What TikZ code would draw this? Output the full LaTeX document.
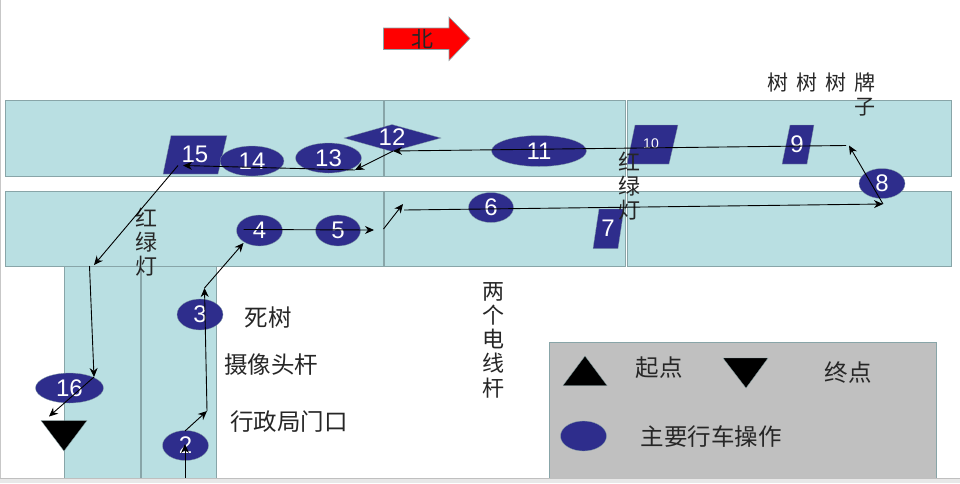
\documentclass[tikz,border=0pt]{standalone}
\usepackage{fontspec}
\setmainfont{Liberation Sans}
\newfontfamily\cjk[WordSpace=1.7]{Noto Sans CJK SC}
\usetikzlibrary{shapes.geometric,arrows.meta}
\definecolor{roadc}{HTML}{B9DFE2}
\definecolor{edgec}{HTML}{88A5A8}
\definecolor{bluec}{HTML}{2E2D8C}
\definecolor{grayc}{HTML}{C0C0C0}
\tikzset{
  road/.style={draw=edgec,fill=roadc,line width=.9pt},
  divider/.style={draw=edgec,line width=1.5pt},
  op/.style={ellipse,fill=bluec,draw=edgec,line width=.3pt,inner sep=0pt,text=white,font=\fontsize{24}{24}\selectfont},
  opshape/.style={fill=bluec,draw=edgec,line width=.3pt},
  num/.style={inner sep=0pt,text=white,font=\fontsize{24}{24}\selectfont},
  lbl/.style={inner sep=0pt,text=black!85,font=\cjk\fontsize{23.5}{24.3}\selectfont,align=center},
  vlbl/.style={inner sep=0pt,text=black!85,font=\cjk\fontsize{22}{24.3}\selectfont,align=center},
  endmark/.style={fill=black,draw=edgec,line width=.3pt},
  route/.style={draw=black,line width=.9pt,-{Stealth[length=9pt,width=8pt]}}
}
\begin{document}
\begin{tikzpicture}[x=1pt,y=-1pt]
\useasboundingbox (0,0) rectangle (960,483);
\fill[white] (0,0) rectangle (960,483);
\fill[black!22] (0,0) rectangle (1,478);
% roads
\draw[road] (5,100) rectangle (384,176.5);
\draw[road] (384,100) rectangle (625.8,176.5);
\draw[road] (627.6,100) rectangle (951,176.5);
\draw[road] (5,191) rectangle (384,266);
\draw[road] (384,191) rectangle (625.8,266);
\draw[road] (627.6,191) rectangle (951,266);
\draw[road] (64.5,266) rectangle (141,478);
\draw[road] (141,266) rectangle (216.5,478);
\draw[divider] (384,100) -- (384,176.5);
\draw[divider] (384,191) -- (384,266);
\draw[divider] (141,266) -- (141,478);
% legend
\draw[draw=edgec,fill=grayc,line width=.8pt] (549.5,342.5) rectangle (936,478);
% north arrow
\draw[draw=edgec,fill=red,line width=.6pt] (383.5,28) -- (449,28) -- (449,17) -- (470,38.5) -- (449,60.5) -- (449,49.5) -- (383.5,49.5) -- cycle;
\node[vlbl] (north) at (422,39) {北};
% parallelograms and diamond
\draw[opshape] (171,135.5) -- (227,135.5) -- (218,174) -- (163,174) -- cycle;
\node[num] (n15) at (195,154.5) {15};
\draw[opshape] (635,125) -- (678,125) -- (669,164) -- (627,164) -- cycle;
\node[num,font=\fontsize{14}{14}\selectfont] (n10) at (651,144) {10};
\draw[opshape] (790,125) -- (814,125) -- (807,164) -- (782,164) -- cycle;
\node[num] (n9) at (797,144.5) {9};
\draw[opshape] (599,209) -- (624,209) -- (618,248.5) -- (593,248.5) -- cycle;
\node[num] (n7) at (608,228) {7};
\draw[opshape] (344,138) -- (392,124.5) -- (441,138) -- (392,151.5) -- cycle;
\node[num] (n12) at (392,137) {12};
% ellipses
\node[op,minimum width=64pt,minimum height=30pt] (n14) at (252,161) {14};
\node[op,minimum width=66pt,minimum height=30pt] (n13) at (328.5,158) {13};
\node[op,minimum width=95pt,minimum height=31pt] (n11) at (539,151) {11};
\node[op,minimum width=46pt,minimum height=30pt] (n8) at (882,183.5) {8};
\node[op,minimum width=45pt,minimum height=30pt] (n6) at (491,207.5) {6};
\node[op,minimum width=46pt,minimum height=31pt] (n4) at (259.5,230.5) {4};
\node[op,minimum width=45pt,minimum height=31pt] (n5) at (338,230.5) {5};
\node[op,minimum width=46pt,minimum height=31pt] (n3) at (200,314.5) {3};
\node[op,minimum width=46pt,minimum height=30pt] (n2) at (185.5,445.5) {2};
\node[op,minimum width=68pt,minimum height=30pt] (n16) at (69.5,388) {16};
% end marker
\draw[endmark] (41,420.5) -- (87,420.5) -- (64,451) -- cycle;
% legend content
\draw[endmark] (563,385.5) -- (607,385.5) -- (585,356) -- cycle;
\draw[endmark] (723,358) -- (768,358) -- (746,388) -- cycle;
\node[op,minimum width=46pt,minimum height=30pt] (legendop) at (583.5,436) {};
% labels
\node[vlbl] (t1) at (146,242) {红\\绿\\灯};
\node[vlbl] (t2) at (629,186) {红\\绿\\灯};
\node[vlbl] (t3) at (493,340) {两\\个\\电\\线\\杆};
\node[vlbl,font=\cjk\fontsize{21}{24}\selectfont,align=right,anchor=north east] (t4) at (876,73) {树 树 树 牌\\子};
\node[lbl] (t5) at (268,318) {死树};
\node[lbl] (t6) at (271,365) {摄像头杆};
\node[lbl] (t7) at (289,422) {行政局门口};
\node[lbl] (t8) at (659,368) {起点};
\node[lbl] (t9) at (848,373) {终点};
\node[lbl] (t10) at (711,437) {主要行车操作};
% route points
\coordinate (p0) at (185,478);
\coordinate (p1) at (185,444);
\coordinate (p2) at (185,431);
\coordinate (p3) at (207,411);
\coordinate (p4) at (204.5,288);
\coordinate (p5) at (243.5,243);
\coordinate (p6) at (243.5,229.5);
\coordinate (p7) at (374,230);
\coordinate (p8) at (383.5,229);
\coordinate (p9) at (403,204);
\coordinate (p10) at (404,210);
\coordinate (p11) at (883,204);
\coordinate (p12) at (849,145.5);
\coordinate (p13) at (846,145.5);
\coordinate (p14) at (393,151);
\coordinate (p15) at (355,170);
\coordinate (p16) at (183,165.5);
\coordinate (p17) at (178,165.5);
\coordinate (p18) at (94,265);
\coordinate (p19) at (89.5,266);
\coordinate (p20) at (94,377);
\coordinate (p21) at (49,416.5);
\draw[route] (p0) -- (p1);
\draw[route] (p2) -- (p3);
\draw[route] (p3) -- (p4);
\draw[route] (p4) -- (p5);
\draw[route] (p6) -- (p7);
\draw[route] (p8) -- (p9);
\draw[route] (p10) -- (p11);
\draw[route] (p11) -- (p12);
\draw[route] (p13) -- (p14);
\draw[route] (p14) -- (p15);
\draw[route] (p15) -- (p16);
\draw[route] (p17) -- (p18);
\draw[route] (p19) -- (p20);
\draw[route] (p20) -- (p21);
% window strip
\fill[black!9] (0,478) rectangle (960,483);
\draw[black!25,line width=.6pt] (0,478.3) -- (960,478.3);
\end{tikzpicture}
\end{document}
